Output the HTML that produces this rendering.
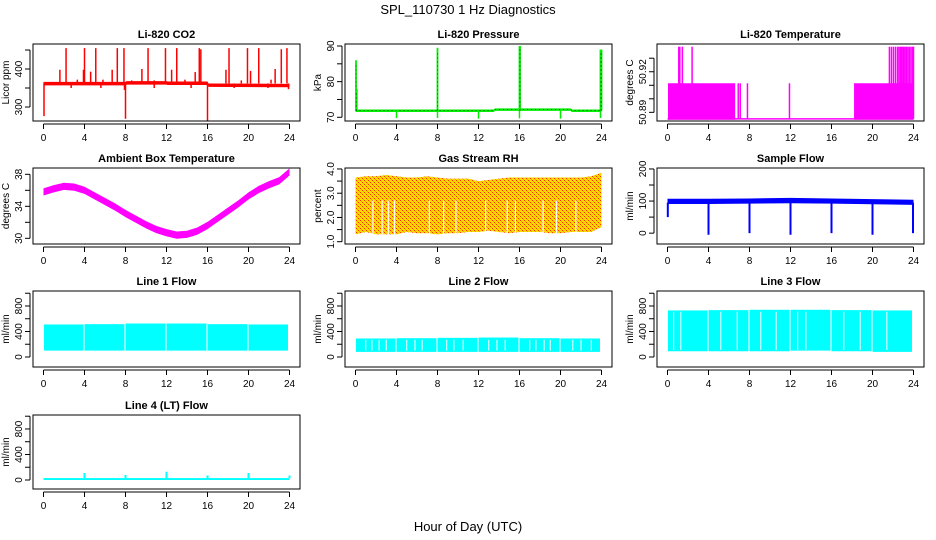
<!DOCTYPE html>
<html><head><meta charset="utf-8"><style>
html,body{margin:0;padding:0;background:#fff;}
svg{display:block;font-family:"Liberation Sans",sans-serif;}
</style></head><body>
<svg id="chart" width="936" height="540" viewBox="0 0 936 540" xmlns="http://www.w3.org/2000/svg">
<defs>
<pattern id="rhpat" width="4" height="4" patternUnits="userSpaceOnUse">
<rect width="4" height="4" fill="#ffd800"/>
<rect x="0" y="0" width="1" height="1" fill="#ff2a00"/>
<rect x="2" y="2" width="1" height="1" fill="#ff2a00"/>
<rect x="1" y="1" width="1" height="1" fill="#ff9900"/>
<rect x="3" y="3" width="1" height="1" fill="#ff9900"/>
</pattern>
</defs>
<text x="468" y="14" text-anchor="middle" font-size="13">SPL_110730  1 Hz Diagnostics</text>
<text x="468" y="531" text-anchor="middle" font-size="13">Hour of Day (UTC)</text>
</svg>
<script>
// ---- data arrays ----
const hourTicks = [0,4,8,12,16,20,24];
// CO2
const co2BaseT = [0,8,8.1,12,12.1,16,16.1,24];
const co2BaseV = [362,362,364,364,363,363,358,357];
const co2UpT = [1.6,2.2,3.9,4.0,4.6,5.1,6.7,7.2,7.85,9.6,10.2,11.9,12.5,13.0,14.8,15.2,15.35,17.8,18.1,19.9,20.2,21.0,22.6,23.2,23.75,3.3,5.8,8.6,10.8,13.8,19.3,22.2];
const co2UpV = [398,455,398,455,393,455,398,455,455,400,455,455,398,455,392,455,452,398,455,455,395,455,400,452,455,372,372,370,370,372,370,372];
const co2DnT = [0.05,8.0,16.0,7.9,23.9,2.7,5.6,10.8,14.4,18.6,21.9];
const co2DnV = [276,269,264,345,347,350,350,350,350,350,350];
// Pressure
const pBaseT = [0,13.5,13.6,21,21.1,24];
const pBaseV = [71.9,71.9,72.2,72.2,71.9,71.9];
const pUpT = [0.05,0.12,8.0,16.0,16.05,23.9,24.0];
const pUpV = [86,78,89.5,90,90,89,89];
const pDnT = [4,8,12,16,20,23.9];
const pDnV = [69.8,69.8,69.6,69.7,69.6,69.8];
// Li-820 temperature
const tBlockStart = [0.05,18.2];
const tBlockEnd = [6.6,24.0];
const tBlockLo = 50.8845;
const tBlockHi = 50.9115;
const tLowV = 50.8852;
const tSpikeT = [1.1,1.2,1.45,2.4,6.9,7.1,7.8,11.9,21.65,21.85,22.05,22.25,22.45,22.6,22.75,22.85,23.0,23.15,23.3,23.45,23.6,23.75,23.9,24.0];
const tSpikeV = [50.9385,50.9385,50.9385,50.9385,50.9115,50.9115,50.9115,50.9115,50.9385,50.9385,50.9385,50.9385,50.9385,50.9385,50.9385,50.9385,50.9385,50.9385,50.9385,50.9385,50.9385,50.9385,50.9385,50.9385];
// Ambient box temperature
const ambT = [0,1,2,3,4,5,6,7,8,9,10,11,12,13,14,15,16,17,18,19,20,21,22,23,24];
const ambV = [35.8,36.2,36.5,36.4,36.0,35.3,34.6,33.9,33.1,32.4,31.7,31.1,30.7,30.4,30.5,30.9,31.6,32.5,33.4,34.3,35.3,36.1,36.7,37.2,38.3];
// Gas stream RH
const rhT = [0,1,2,3,4,5,6,7,8,9,10,11,12,13,14,15,16,17,18,19,20,21,22,23,24];
const rhHi = [3.65,3.7,3.7,3.75,3.7,3.65,3.65,3.7,3.65,3.6,3.6,3.6,3.5,3.55,3.6,3.65,3.65,3.65,3.65,3.65,3.65,3.65,3.65,3.7,3.85];
const rhLo = [1.3,1.4,1.3,1.3,1.3,1.4,1.35,1.35,1.3,1.35,1.35,1.4,1.4,1.45,1.4,1.35,1.4,1.4,1.4,1.35,1.35,1.4,1.4,1.4,1.6];
const rhGapT = [1.7,2.6,3.2,3.8,7.2,8.6,9.8,12.7,14.8,15.6,18.3,19.6,21.5];
// Sample flow
const sfT = [0,4,8,12,16,20,24];
const sfHi = [107,107,108,110,108,106,104];
const sfLo = [91,91,92,93,92,90,88];
const sfDipT = [4,8,12,16,20,23.95];
const sfDipV = [-5,0,-5,0,-5,0];
// Line flows (segments between zeroing events)
const segStart = [0.05,4.0,8.0,12.0,16.0,20.0];
const segEnd = [3.9,7.9,11.9,15.9,19.9,23.85];
const l1Hi = [510,515,525,525,515,510];
const l1Lo = [100,100,100,100,100,100];
const l2Hi = [290,295,300,305,295,290];
const l2Lo = [80,80,80,80,80,80];
const l3Hi = [730,735,740,740,735,730];
const l3Lo = [90,90,90,100,90,80];
const l2GapT = [1.0,1.6,2.3,3.0,5.0,5.8,6.5,8.9,9.6,10.5,13.0,13.8,14.6,17.0,17.6,18.4,19.0,21.2,22.0,23.0];
const l3GapT = [0.6,1.3,5.2,6.8,9.1,10.6,12.7,13.5,17.2,18.8,21.4];
const l4SpikeT = [4,8,12,16,20,24];
const l4SpikeV = [110,80,130,70,110,70];
const l4Base = [0,30];

// ---- layout ----
const svg = document.getElementById('chart');
const NS = 'http://www.w3.org/2000/svg';
const colL = [33,345,657], PW = 267;
const rowT = [44,168,291,415], rowH = [77,76,76,74];
function el(tag, attrs, parent){const e=document.createElementNS(NS,tag);for(const k in attrs)e.setAttribute(k,attrs[k]);(parent||svg).appendChild(e);return e;}

function panel(key,col,row,ymin,ymax,title,ylab,yticks,ylabels){
  const L=colL[col],T=rowT[row],H=rowH[row],B=T+H,R=L+PW;
  const g=el('g',{});
  
  
  const x=t=>L+10.5+t*(PW-21)/24;
  const y=v=>B-(v-ymin)/(ymax-ymin)*H;
  const data=el('g',{},g);
  
  
  const box=()=>{const b=el('rect',{x:L,y:T,width:PW,height:H,fill:'none',stroke:'#000','stroke-width':1},g);
    
    
    const ttl=el('text',{x:(L+R)/2,y:T-6,'text-anchor':'middle','font-size':11,'font-weight':'bold'},g);ttl.textContent=title;
    
    
    const xa=el('g',{},g);
    
    
    el('line',{x1:x(0),x2:x(24),y1:B+3,y2:B+3,stroke:'#000'},xa);
    hourTicks.forEach(h=>{el('line',{x1:x(h),x2:x(h),y1:B+3,y2:B+8,stroke:'#000'},xa);
      const tl=el('text',{x:x(h),y:B+20,'text-anchor':'middle','font-size':10},xa);tl.textContent=h;
      
      });
    const ya=el('g',{},g);
    
    
    el('line',{x1:L-3,x2:L-3,y1:y(yticks[0]),y2:y(yticks[yticks.length-1]),stroke:'#000'},ya);
    yticks.forEach(v=>el('line',{x1:L-3,x2:L-8,y1:y(v),y2:y(v),stroke:'#000'},ya));
    ylabels.forEach(v=>{const yy=y(v);const tl=el('text',{x:L-11,y:yy,'text-anchor':'middle','font-size':10,transform:`rotate(-90 ${L-11} ${yy})`},ya);tl.textContent=v;
      
      });
    const yt=el('text',{x:L-24,y:(T+B)/2,'text-anchor':'middle','font-size':10,transform:`rotate(-90 ${L-24} ${(T+B)/2})`},g);yt.textContent=ylab;
    
    
  };
  return {x,y,data,box,L,T,B,R};
}
function vline(p,t,v0,v1,color,w,dash){const a={x1:p.x(t),x2:p.x(t),y1:p.y(v0),y2:p.y(v1),stroke:color,'stroke-width':w||1.5};if(dash)a['stroke-dasharray']=dash;el('line',a,p.data);}
function band(p,ts,hi,lo,fill){let d='M'+ts.map((t,i)=>p.x(t)+','+p.y(hi[i])).join(' L');
  for(let i=ts.length-1;i>=0;i--)d+=' L'+p.x(ts[i])+','+p.y(lo[i]);el('path',{d:d+'Z',fill:fill,stroke:'none'},p.data);}

// CO2
let p=panel('co2',0,0,263.2,465.8,'Li-820 CO2','Licor ppm',[300,350,400,450],[300,400]);
band(p,co2BaseT,co2BaseV.map(v=>v+4),co2BaseV.map(v=>v-5),'#ff0000');
co2UpT.forEach((t,i)=>vline(p,t,co2BaseV[0],co2UpV[i],'#ff0000',1.5));
co2DnT.forEach((t,i)=>vline(p,t,co2BaseV[0],co2DnV[i],'#ff0000',1.5));
p.box();
// Pressure
p=panel('pressure',1,0,68.96,90.56,'Li-820 Pressure','kPa',[70,75,80,85,90],[70,80,90]);
band(p,pBaseT,pBaseV.map(v=>v+0.3),pBaseV.map(v=>v-0.4),'#00ee00');
el('polyline',{points:pBaseT.map((t,i)=>p.x(t)+','+p.y(pBaseV[i])).join(' '),fill:'none',stroke:'#000','stroke-width':0.6,'stroke-dasharray':'1 3'},p.data);
pUpT.forEach((t,i)=>{vline(p,t,pBaseV[0],pUpV[i],'#00ee00',1.8);vline(p,t,pBaseV[0],pUpV[i]-1,'#000',0.6,'1 3');});
pDnT.forEach((t,i)=>vline(p,t,pBaseV[0],pDnV[i],'#00ee00',1.5));
p.box();
// Li-820 Temperature
p=panel('li820-temp',2,0,50.8836,50.9405,'Li-820 Temperature','degrees C',[50.89,50.9,50.91,50.92,50.93],[50.89,50.92]);
tBlockStart.forEach((s,i)=>el('rect',{x:p.x(s),y:p.y(tBlockHi),width:p.x(tBlockEnd[i])-p.x(s),height:p.y(tBlockLo)-p.y(tBlockHi),fill:'#ff00ff'},p.data));
el('line',{x1:p.x(0),x2:p.x(24),y1:p.y(tLowV),y2:p.y(tLowV),stroke:'#ff00ff','stroke-width':1.5},p.data);
tSpikeT.forEach((t,i)=>vline(p,t,tLowV,tSpikeV[i],'#ff00ff',1.5));
p.box();
// Ambient
p=panel('ambient-temp',0,1,29.29,38.79,'Ambient Box Temperature','degrees C',[30,32,34,36,38],[30,34,38]);
band(p,ambT,ambV.map(v=>v+0.45),ambV.map(v=>v-0.45),'#ff00ff');
p.box();
// RH
p=panel('gas-rh',1,1,0.905,4.04,'Gas Stream RH','percent',[1,1.5,2,2.5,3,3.5,4],[1.0,2.0,3.0,4.0].map(v=>v.toFixed(1)));
band(p,rhT,rhHi,rhLo,'url(#rhpat)');
rhGapT.forEach(t=>vline(p,t,1.2,2.7,'#fff',1.2));
p.box();
// Sample flow
p=panel('sample-flow',2,1,-33.8,203,'Sample Flow','ml/min',[0,50,100,150,200],[0,100,200]);
band(p,sfT,sfHi,sfLo,'#0000ff');
sfDipT.forEach((t,i)=>vline(p,t,95,sfDipV[i],'#0000ff',2));
vline(p,0.03,95,50,'#0000ff',2);
p.box();
// Line flows
function flow(key,col,row,title,hi,lo,gaps){
  const q=panel(key,col,row,-157,1035,title,'ml/min',[0,200,400,600,800,1000],[0,400,800]);
  segStart.forEach((s,i)=>el('rect',{x:q.x(s),y:q.y(hi[i]),width:q.x(segEnd[i])-q.x(s),height:q.y(lo[i])-q.y(hi[i]),fill:'#00ffff'},q.data));
  (gaps||[]).forEach(t=>vline(q,t,lo[0]+20,hi[0]-20,'#fff',1));
  q.box();return q;}
flow('line1-flow',0,2,'Line 1 Flow',l1Hi,l1Lo,[]);
flow('line2-flow',1,2,'Line 2 Flow',l2Hi,l2Lo,l2GapT);
flow('line3-flow',2,2,'Line 3 Flow',l3Hi,l3Lo,l3GapT);
p=panel('line4-flow',0,3,-141,1019,'Line 4 (LT) Flow','ml/min',[0,200,400,600,800,1000],[0,400,800]);
el('rect',{x:p.x(0),y:p.y(l4Base[1]),width:p.x(24)-p.x(0),height:p.y(l4Base[0])-p.y(l4Base[1]),fill:'#00ffff'},p.data);
l4SpikeT.forEach((t,i)=>vline(p,t,l4Base[1],l4SpikeV[i],'#00ffff',2));
p.box();
</script>
</body></html>
